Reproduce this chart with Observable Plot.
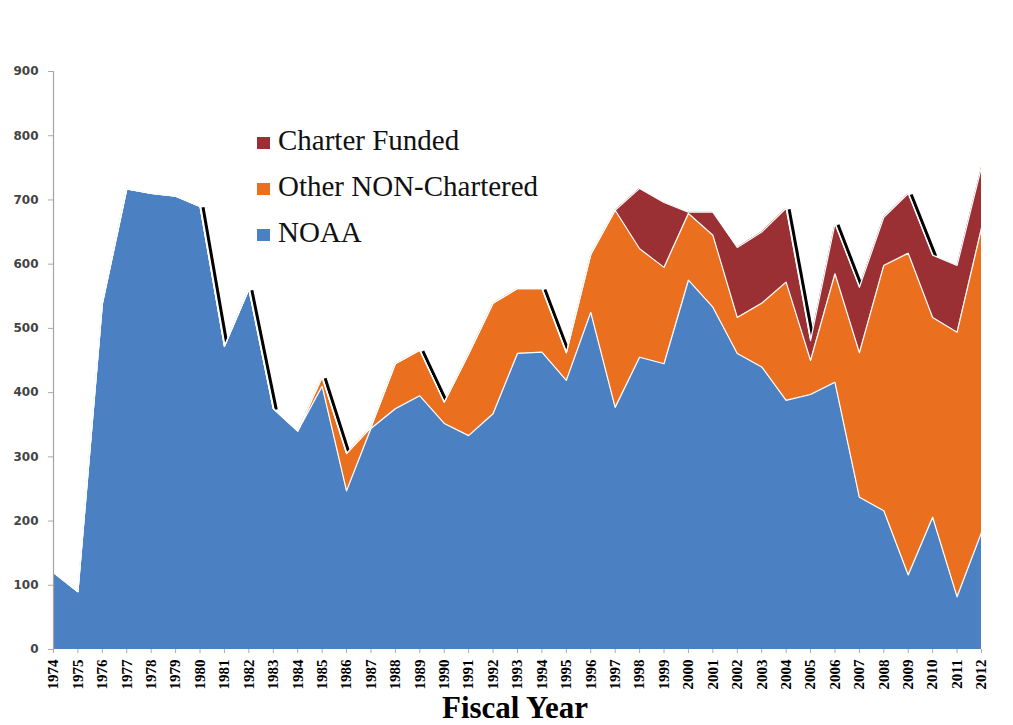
<!DOCTYPE html>
<html><head><meta charset="utf-8">
<script src="https://cdn.jsdelivr.net/npm/d3@7"></script>
<script src="https://cdn.jsdelivr.net/npm/@observablehq/plot@0.6"></script>
<style>
body{margin:0;background:#fff;}
#wrap{position:relative;width:1013px;height:725px;overflow:hidden;}
#legend{position:absolute;left:257px;top:117px;font-family:"Liberation Serif","Times New Roman",serif;font-size:29px;color:#111;}
.item{line-height:46px;white-space:nowrap;}
.sw{display:inline-block;width:13px;height:12px;margin-right:8px;vertical-align:middle;}
#xlabel{position:absolute;left:0;width:1030px;text-align:center;top:692px;font-family:"Liberation Serif","Times New Roman",serif;font-weight:bold;font-size:31px;line-height:31px;color:#000;}
</style></head><body><div id="wrap"><div id="legend"></div><div id="xlabel">Fiscal Year</div></div>
<script>
const years = [1974,1975,1976,1977,1978,1979,1980,1981,1982,1983,1984,1985,1986,1987,1988,1989,1990,1991,1992,1993,1994,1995,1996,1997,1998,1999,2000,2001,2002,2003,2004,2005,2006,2007,2008,2009,2010,2011,2012];
const noaa    = [120,90,538,717,710,706,690,472,561,375,340,410,247,344,375,395,352,333,367,461,463,419,525,377,455,445,575,533,461,440,388,397,416,237,216,116,206,82,182];
const other   = [0,0,0,0,0,0,0,0,0,0,0,14,58,2,70,71,33,127,172,101,99,43,90,307,169,150,104,112,56,99,184,53,169,225,382,501,311,412,474];
const charter = [0,0,0,0,0,0,0,0,0,0,0,0,0,0,0,0,0,0,0,0,0,0,0,0,94,101,2,36,109,111,115,31,78,102,75,93,97,104,95];
const seriesNames = ["NOAA","Other NON-Chartered","Charter Funded"];
const seriesColors = ["#4b80c3","#ea6f1e","#9a3034"];
const legendOrder = ["Charter Funded","Other NON-Chartered","NOAA"];
const yTicks = [0,100,200,300,400,500,600,700,800,900];
const shadowStarts = [1980,1982,1985,1989,1994,2004,2006,2009];

const seriesValues = [noaa, other, charter];
const data = [];
seriesNames.forEach((name, s) => years.forEach((yr, i) => data.push({year: yr, series: name, value: seriesValues[s][i]})));
const totals = years.map((yr, i) => noaa[i] + other[i] + charter[i]);
const shadow = shadowStarts.map(yr => { const i = years.indexOf(yr); return {x1: yr, y1: totals[i], x2: years[i+1], y2: totals[i+1]}; });

const chart = Plot.plot({
  width: 1013, height: 725,
  marginTop: 71, marginBottom: 76, marginLeft: 53, marginRight: 32,
  style: {background: "transparent"},
  x: {domain: [1974, 2012]},
  y: {domain: [0, 900]},
  color: {domain: seriesNames, range: seriesColors},
  marks: [
    Plot.link(shadow, {x1: "x1", y1: "y1", x2: "x2", y2: "y2", stroke: "#000", strokeWidth: 3, dx: 3, dy: 1}),
    Plot.areaY(data, {x: "year", y: "value", fill: "series", z: "series"}),
    Plot.line(data, Plot.stackY2({x: "year", y: "value", z: "series", stroke: "#fff", strokeWidth: 1.2})),
    Plot.ruleX([1974], {y1: 0, y2: 900, stroke: "#a8a2a2", strokeWidth: 1.2}),
    Plot.axisY({ticks: yTicks, tickSize: 5, tickPadding: 10, fontFamily: "DejaVu Sans", fontSize: 12, fontWeight: "bold", fill: "#444", stroke: "#aaa", label: null}),
    Plot.axisX({ticks: years, tickFormat: d => String(d), tickRotate: -90, tickSize: 4, tickPadding: 6, fontFamily: "Liberation Serif", fontSize: 15, fontWeight: "bold", fill: "#000", stroke: "#aaa", label: null})
  ]
});
document.getElementById("wrap").prepend(chart);

const legend = document.getElementById("legend");
legendOrder.forEach(name => {
  const d = document.createElement("div");
  d.className = "item";
  const sw = document.createElement("span");
  sw.className = "sw";
  sw.style.background = seriesColors[seriesNames.indexOf(name)];
  d.appendChild(sw);
  d.appendChild(document.createTextNode(name));
  legend.appendChild(d);
});
</script></body></html>
